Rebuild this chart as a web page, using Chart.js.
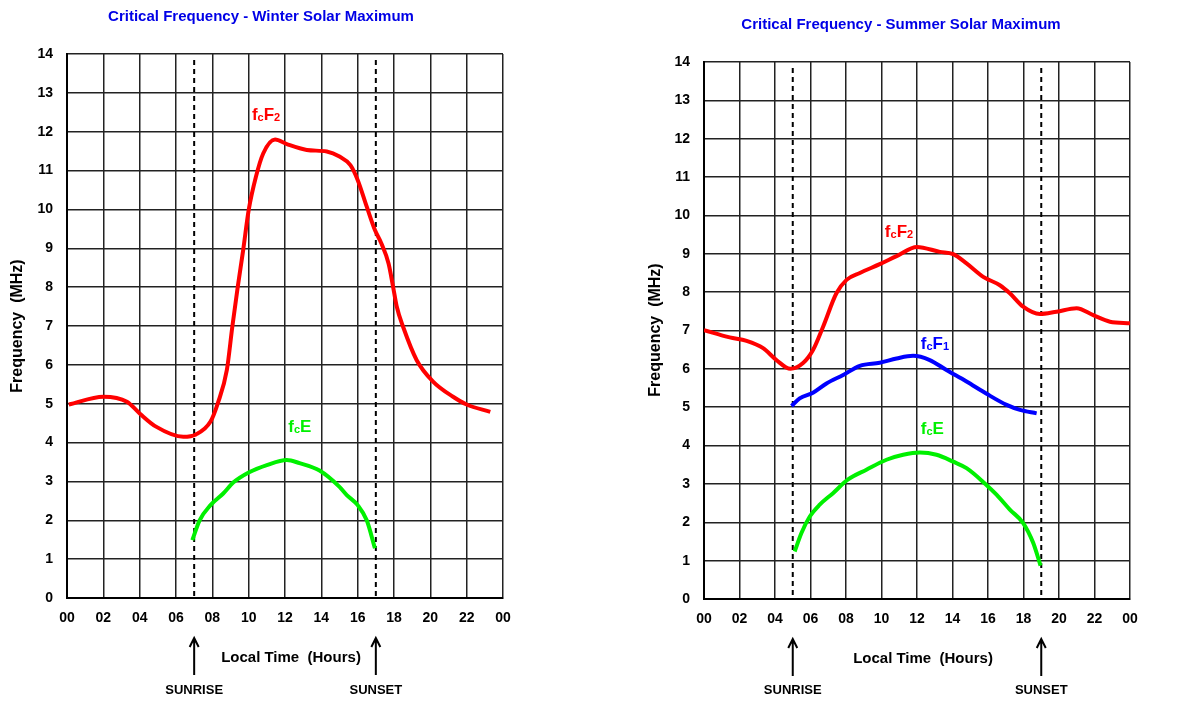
<!DOCTYPE html>
<html>
<head>
<meta charset="utf-8">
<script src="https://cdn.jsdelivr.net/npm/chart.js@4.4.0/dist/chart.umd.min.js"></script>
<style>
body{margin:0;background:#fff;}
.wrap{position:absolute;top:0;width:592px;height:704px;}
</style>
</head>
<body>
<div class="wrap" style="left:0"><canvas id="winter" width="592" height="704"></canvas></div>
<div class="wrap" style="left:592px"><canvas id="summer" width="592" height="704"></canvas></div>
<script>
// winter solar maximum
var winter_f2_hours = [0.1, 2.0, 3.3, 4.0, 4.9, 6.4, 7.1, 7.9, 8.3, 8.8, 9.1, 9.4, 9.7, 10.0, 10.4, 10.8, 11.45, 12.1, 13.2, 14.3, 15.0, 15.6, 16.0, 16.5, 16.95, 17.3, 17.7, 17.95, 18.15, 18.5, 19.25, 20.15, 21.25, 22.0, 23.3];
var winter_f2_mhz = [4.98, 5.18, 5.05, 4.75, 4.41, 4.15, 4.21, 4.54, 5.01, 5.87, 6.98, 8.01, 8.96, 9.98, 10.84, 11.44, 11.8, 11.68, 11.53, 11.49, 11.36, 11.14, 10.76, 10.07, 9.47, 9.13, 8.61, 8.01, 7.5, 6.98, 6.12, 5.57, 5.18, 4.98, 4.79];
var winter_e_hours = [6.9, 7.3, 7.9, 8.6, 9.15, 10.0, 11.0, 12.1, 12.8, 13.9, 15.0, 15.4, 16.0, 16.5, 16.95];
var winter_e_mhz = [1.49, 2.0, 2.39, 2.69, 2.97, 3.23, 3.42, 3.55, 3.47, 3.28, 2.86, 2.65, 2.39, 2.0, 1.28];
var winter_sun = [7, 17];

// summer solar maximum
var summer_f2_hours = [0, 1.45, 2.4, 3.33, 4.08, 4.87, 5.58, 6.14, 6.71, 7.46, 8.03, 8.78, 9.9, 10.85, 12.0, 13.29, 14.04, 14.79, 15.73, 16.67, 17.23, 17.98, 18.92, 19.86, 20.99, 21.93, 22.87, 24];
var summer_f2_mhz = [7.01, 6.82, 6.73, 6.54, 6.23, 6.0, 6.15, 6.49, 7.1, 7.97, 8.32, 8.5, 8.73, 8.94, 9.18, 9.05, 8.99, 8.75, 8.4, 8.18, 7.97, 7.62, 7.43, 7.49, 7.58, 7.4, 7.23, 7.19];
var summer_f1_hours = [4.93, 5.39, 6.14, 6.9, 7.84, 8.78, 9.9, 10.85, 11.78, 12.72, 13.66, 14.79, 15.92, 17.05, 17.8, 18.74];
var summer_f1_mhz = [5.03, 5.23, 5.38, 5.62, 5.84, 6.08, 6.16, 6.27, 6.34, 6.23, 5.97, 5.67, 5.35, 5.06, 4.93, 4.84];
var summer_e_hours = [5.11, 5.49, 5.96, 6.52, 7.27, 8.1, 9.15, 10.28, 11.22, 12.16, 13.1, 14.04, 14.79, 15.85, 16.48, 17.23, 17.98, 18.55, 18.96];
var summer_e_mhz = [1.24, 1.72, 2.15, 2.46, 2.76, 3.11, 3.37, 3.63, 3.76, 3.82, 3.76, 3.58, 3.41, 3.0, 2.72, 2.33, 1.98, 1.46, 0.87];
var summer_sun = [5, 19];

var RED = "#ff0000", GREEN = "#00f000", BLUE = "#0000ff";
var FONT = "'Liberation Sans', Arial, sans-serif";

function pts(hours, mhz){
	var out = [];
	for (var i = 0; i < hours.length; i++) out.push({x: hours[i], y: mhz[i]});
	return out;
}

function line(hours, mhz, color){
	return {data: pts(hours, mhz), borderColor: color, borderWidth: 4, pointRadius: 0,
		cubicInterpolationMode: 'monotone', fill: false};
}

function sub_label(ctx, x, y, parts, color){
	ctx.fillStyle = color;
	ctx.textAlign = 'left';
	ctx.textBaseline = 'alphabetic';
	parts.forEach(function(p){
		ctx.font = 'bold ' + p[1] + 'px ' + FONT;
		ctx.fillText(p[0], x, y + (p[1] < 14 ? 1 : 0));
		x += ctx.measureText(p[0]).width;
	});
}

// draws titles, dashed sunrise/sunset lines, arrows and curve labels
var decor = {
	id: 'decor',
	beforeDatasetsDraw: function(chart){
		var d = chart.options.plugins.decor, ctx = chart.ctx, a = chart.chartArea;
		ctx.save();
		ctx.strokeStyle = '#000';
		ctx.lineWidth = 2;
		ctx.setLineDash([5, 4]);
		d.sun.forEach(function(h){
			var x = chart.scales.x.getPixelForValue(h);
			ctx.beginPath();
			ctx.moveTo(x, a.top + 6);
			ctx.lineTo(x, a.bottom);
			ctx.stroke();
		});
		ctx.restore();
	},
	afterDraw: function(chart){
		var d = chart.options.plugins.decor, ctx = chart.ctx, a = chart.chartArea;
		var sx = chart.scales.x, sy = chart.scales.y;
		ctx.save();
		ctx.textAlign = 'center';
		ctx.textBaseline = 'middle';
		ctx.fillStyle = '#0000e6';
		ctx.font = 'bold 15px ' + FONT;
		ctx.fillText(d.title, d.titleX, d.titleY);

		ctx.fillStyle = '#000';
		ctx.fillText('Local Time  (Hours)', d.xTitleX, d.xTitleY);
		ctx.save();
		ctx.translate(d.yTitleX, d.yTitleY);
		ctx.rotate(-Math.PI / 2);
		ctx.font = 'bold 16px ' + FONT;
		ctx.fillText('Frequency  (MHz)', 0, 0);
		ctx.restore();

		// arrows and sunrise / sunset text
		ctx.strokeStyle = '#000';
		ctx.lineWidth = 2;
		var names = ['SUNRISE', 'SUNSET'];
		d.sun.forEach(function(h, i){
			var x = sx.getPixelForValue(h);
			ctx.beginPath();
			ctx.moveTo(x, a.bottom + 40);
			ctx.lineTo(x, a.bottom + 77);
			ctx.moveTo(x - 4.5, a.bottom + 49);
			ctx.lineTo(x, a.bottom + 40);
			ctx.lineTo(x + 4.5, a.bottom + 49);
			ctx.stroke();
			ctx.font = 'bold 13px ' + FONT;
			ctx.fillText(names[i], x, 690);
		});

		d.labels.forEach(function(l){
			sub_label(ctx, sx.getPixelForValue(l.h), sy.getPixelForValue(l.f), l.parts, l.color);
		});
		ctx.restore();
	}
};

function options(cfg){
	var tick_font = {family: FONT, size: 14, weight: 'bold'};
	return {
		responsive: false,
		animation: false,
		layout: {padding: {left: cfg.padLeft, right: cfg.padRight, top: cfg.padTop, bottom: 0}},
		plugins: {legend: {display: false}, tooltip: {enabled: false}, decor: cfg.decor},
		scales: {
			x: {
				type: 'linear', min: 0, max: 24,
				ticks: {stepSize: 2, padding: 12, color: '#000', font: tick_font,
					callback: function(v){ var h = v % 24; return (h < 10 ? '0' : '') + h; }},
				grid: {color: '#222', lineWidth: 1.5, drawTicks: false},
				border: {color: '#000', width: 2},
				afterFit: function(s){ s.height = cfg.xHeight; }
			},
			y: {
				min: 0, max: 14,
				ticks: {stepSize: 1, padding: 14, color: '#000', font: tick_font},
				grid: {color: '#222', lineWidth: 1.5, drawTicks: false},
				border: {color: '#000', width: 2},
				afterFit: function(s){ s.width = 40; }
			}
		}
	};
}

new Chart(document.getElementById('winter'), {
	type: 'line',
	data: {datasets: [
		line(winter_f2_hours, winter_f2_mhz, RED),
		line(winter_e_hours, winter_e_mhz, GREEN)
	]},
	options: options({
		padLeft: 27, padRight: 89, padTop: 54, xHeight: 106,
		decor: {
			title: 'Critical Frequency - Winter Solar Maximum', titleX: 261, titleY: 17,
			xTitleX: 291, xTitleY: 658, yTitleX: 18, yTitleY: 326,
			sun: winter_sun,
			labels: [
				{h: 10.18, f: 12.3, color: RED, parts: [['f', 17], ['c', 11], ['F', 17], ['2', 11]]},
				{h: 12.18, f: 4.28, color: GREEN, parts: [['f', 17], ['c', 11], ['E', 17]]}
			]
		}
	}),
	plugins: [decor]
});

new Chart(document.getElementById('summer'), {
	type: 'line',
	data: {datasets: [
		line(summer_f2_hours, summer_f2_mhz, RED),
		line(summer_f1_hours, summer_f1_mhz, BLUE),
		line(summer_e_hours, summer_e_mhz, GREEN)
	]},
	options: options({
		padLeft: 72, padRight: 54, padTop: 62, xHeight: 105,
		decor: {
			title: 'Critical Frequency - Summer Solar Maximum', titleX: 309, titleY: 25,
			xTitleX: 331, xTitleY: 659, yTitleX: 64, yTitleY: 330,
			sun: summer_sun,
			labels: [
				{h: 10.19, f: 9.44, color: RED, parts: [['f', 17], ['c', 11], ['F', 17], ['2', 11]]},
				{h: 12.21, f: 6.52, color: BLUE, parts: [['f', 17], ['c', 11], ['F', 17], ['1', 11]]},
				{h: 12.21, f: 4.30, color: GREEN, parts: [['f', 17], ['c', 11], ['E', 17]]}
			]
		}
	}),
	plugins: [decor]
});
</script>
</body>
</html>
